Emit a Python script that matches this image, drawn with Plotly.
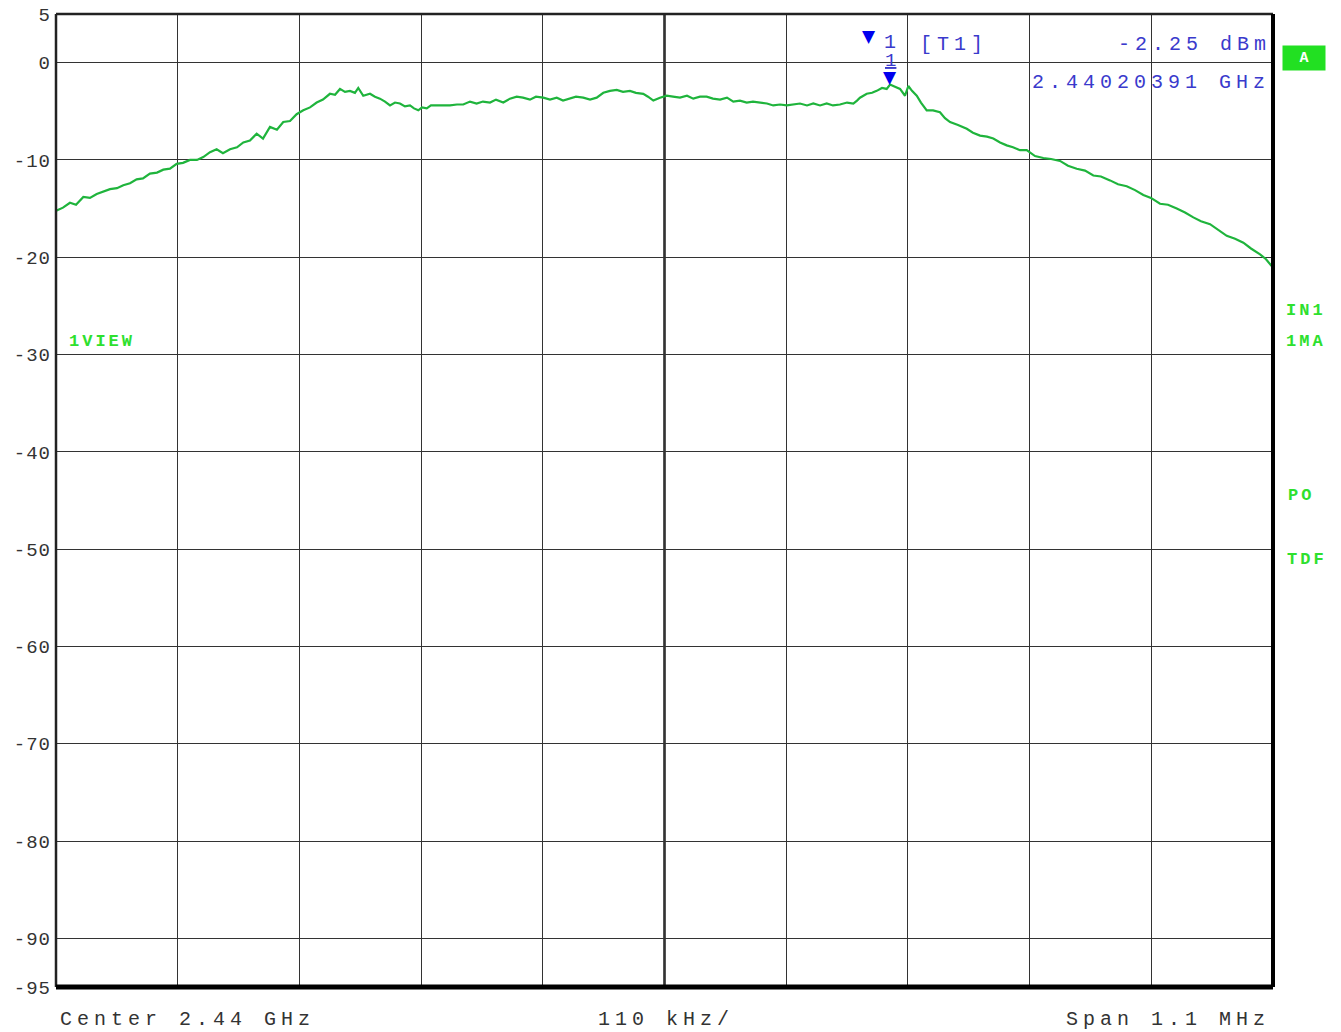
import plotly.graph_objects as go

# Frequency offset from center (kHz, center = 2.44 GHz) and level (dBm)
freq_khz = [-549.4, -543.7, -537.4, -531.9, -525.3, -519.3, -513.2, -507.5, -501.2, -494.9,
            -489.2, -483.1, -477.1, -471.4, -465.1, -458.7, -453.0, -447.0, -440.9, -435.2,
            -428.9, -422.6, -416.9, -410.8, -404.8, -399.1, -392.7, -386.4, -380.7, -374.7,
            -368.6, -362.9, -356.6, -350.3, -344.6, -338.5, -332.5, -326.5, -320.4, -314.4,
            -308.7, -302.4, -297.8, -293.3, -288.8, -284.3, -279.8, -276.8, -272.3, -266.2,
            -261.7, -257.2, -252.6, -248.1, -243.6, -239.1, -234.6, -230.0, -226.4, -222.5,
            -219.2, -214.9, -211.1, -205.9, -200.2, -193.9, -187.6, -181.9, -175.8, -169.8,
            -164.1, -157.7, -152.3, -145.7, -139.7, -133.6, -127.9, -121.6, -116.2, -109.6,
            -103.5, -97.4, -91.7, -85.4, -80.0, -73.4, -67.3, -61.3, -55.3, -49.3,
            -43.2, -37.5, -31.2, -25.8, -19.2, -14.9, -10.1, -4.1, 2.0, 7.7,
            14.0, 20.3, 26.0, 32.1, 38.1, 43.8, 50.2, 56.5, 62.2, 68.2,
            74.3, 80.0, 86.3, 92.6, 98.3, 104.4, 110.5, 116.1, 122.5, 128.8,
            134.5, 140.6, 146.6, 152.3, 158.6, 165.0, 170.7, 174.0, 176.7, 182.8,
            187.6, 191.8, 196.6, 200.8, 203.9, 206.8, 212.9, 217.4, 220.4, 223.7,
            228.0, 231.8, 237.0, 242.7, 249.0, 253.5, 258.1, 265.3, 273.2, 278.8,
            285.2, 291.5, 297.2, 303.3, 309.3, 315.0, 321.3, 327.4, 334.9, 342.4,
            349.4, 357.5, 364.7, 372.6, 380.1, 387.6, 394.5, 402.7, 409.9, 417.8,
            425.3, 432.8, 439.7, 447.9, 455.1, 463.0, 470.5, 478.0, 484.9, 493.1,
            500.3, 508.2, 515.7, 523.2, 530.1, 538.3, 543.7, 548.8]

level_dbm = [-15.2, -14.9, -14.4, -14.6, -13.8, -13.9, -13.5, -13.3, -13.0, -12.9,
             -12.6, -12.4, -12.0, -11.9, -11.4, -11.3, -11.0, -10.9, -10.4, -10.3,
             -10.0, -10.0, -9.7, -9.2, -8.9, -9.3, -8.9, -8.7, -8.2, -8.0,
             -7.3, -7.8, -6.6, -6.9, -6.1, -6.0, -5.3, -4.9, -4.6, -4.1,
             -3.8, -3.2, -3.3, -2.7, -3.0, -2.9, -3.1, -2.6, -3.4, -3.2,
             -3.5, -3.7, -4.0, -4.4, -4.1, -4.2, -4.5, -4.4, -4.7, -4.9,
             -4.6, -4.7, -4.4, -4.4, -4.4, -4.4, -4.3, -4.3, -4.0, -4.2,
             -4.0, -4.1, -3.8, -4.1, -3.7, -3.5, -3.6, -3.8, -3.5, -3.6,
             -3.8, -3.6, -3.9, -3.7, -3.5, -3.6, -3.8, -3.6, -3.1, -2.9,
             -2.8, -3.0, -2.9, -3.1, -3.2, -3.5, -3.9, -3.6, -3.4, -3.5,
             -3.6, -3.4, -3.7, -3.5, -3.5, -3.7, -3.8, -3.6, -4.0, -3.9,
             -4.1, -4.0, -4.1, -4.2, -4.4, -4.3, -4.4, -4.3, -4.2, -4.4,
             -4.2, -4.4, -4.2, -4.4, -4.3, -4.1, -4.2, -3.9, -3.6, -3.2,
             -3.1, -2.9, -2.6, -2.7, -2.25, -2.4, -2.7, -3.4, -2.4, -2.9,
             -3.4, -4.1, -4.9, -4.9, -5.1, -5.7, -6.1, -6.4, -6.8, -7.2,
             -7.5, -7.6, -7.8, -8.2, -8.5, -8.7, -9.0, -9.0, -9.6, -9.8,
             -9.9, -10.1, -10.6, -10.9, -11.1, -11.6, -11.7, -12.1, -12.5, -12.7,
             -13.1, -13.6, -13.9, -14.5, -14.6, -15.0, -15.4, -15.9, -16.3, -16.6,
             -17.2, -17.8, -18.1, -18.5, -19.1, -19.7, -20.2, -20.9]

marker_freq_khz = 203.91
marker_level = -2.25

y_tick_vals = [5, 0, -10, -20, -30, -40, -50, -60, -70, -80, -90, -95]
y_tick_text = ["5", "0", "-10", "-20", "-30", "-40", "-50", "-60", "-70", "-80", "-90", "-95"]
x_grid_vals = [-550, -440, -330, -220, -110, 0, 110, 220, 330, 440, 550]

MONO = "Liberation Mono, Courier New, monospace"
BLUE = "#3a3acc"
GREEN_TXT = "#2ee02e"
TRACE = "#1fb43c"

# plot area in page pixels (page has an 8px body margin)
PX0, PX1, PY0, PY1 = 56, 1273, 14, 987


def px(x):
    return (x - PX0) / (PX1 - PX0)


def py(y):
    return (PY1 - y) / (PY1 - PY0)


def sp(text, n):
    return '<span style="letter-spacing:%dpx">%s</span>' % (n, text)


fig = go.Figure()
fig.add_trace(go.Scatter(x=freq_khz, y=level_dbm, mode="lines",
                         line=dict(color=TRACE, width=2.2), hoverinfo="skip",
                         showlegend=False))

# center grid line appears doubled
fig.add_shape(type="line", xref="x", yref="paper", x0=0, x1=0, y0=0, y1=1,
              line=dict(color="#555", width=3), layer="below")
# frame
fig.add_shape(type="line", xref="paper", yref="paper", x0=0, x1=0, y0=0, y1=1,
              line=dict(color="#222", width=2.5))
fig.add_shape(type="line", xref="paper", yref="paper", x0=0, x1=1, y0=1, y1=1,
              line=dict(color="#222", width=2.5))
fig.add_shape(type="line", xref="paper", yref="paper", x0=1, x1=1, y0=0, y1=1,
              line=dict(color="#000", width=4))
fig.add_shape(type="line", xref="paper", yref="paper", x0=0, x1=1, y0=0, y1=0,
              line=dict(color="#000", width=5))

ann = []
# marker on trace
ann.append(dict(x=marker_freq_khz, y=marker_level, xref="x", yref="y", text="▼",
                showarrow=False, yanchor="bottom", yshift=-4,
                font=dict(family="DejaVu Sans", size=17, color="#0000ee")))
ann.append(dict(x=marker_freq_khz, y=marker_level, xref="x", yref="y",
                text="<u>1</u>", showarrow=False, yanchor="bottom", yshift=11,
                font=dict(family=MONO, size=19, color=BLUE)))
# marker readout
ann.append(dict(x=px(869), y=py(36), xref="paper", yref="paper",
                text="▼", showarrow=False, xanchor="center", yanchor="middle",
                font=dict(family="DejaVu Sans", size=17, color="#0000ee")))
ann.append(dict(x=px(882), y=py(43), xref="paper", yref="paper",
                text=sp("1", 5), showarrow=False, xanchor="left", yanchor="middle",
                font=dict(family=MONO, size=20, color=BLUE)))
ann.append(dict(x=px(918), y=py(44), xref="paper", yref="paper",
                text=sp("[T1]", 5), showarrow=False, xanchor="left", yanchor="middle",
                font=dict(family=MONO, size=20, color=BLUE)))
ann.append(dict(x=1.0, y=py(44), xref="paper", yref="paper",
                text=sp("-2.25 dBm", 5), showarrow=False, xanchor="right", yanchor="middle",
                font=dict(family=MONO, size=20, color=BLUE)))
ann.append(dict(x=px(1272), y=py(82), xref="paper", yref="paper",
                text=sp("2.44020391 GHz", 5), showarrow=False, xanchor="right",
                yanchor="middle", font=dict(family=MONO, size=20, color=BLUE)))
# green status box
ann.append(dict(x=px(1304), y=py(58), xref="paper", yref="paper",
                text="<b>A</b>", showarrow=False, xanchor="center", yanchor="middle",
                bgcolor="#22e022", width=40, height=22,
                font=dict(family=MONO, size=15, color="#ffffff")))
# green side labels
for txt, lx, ly in [("1VIEW", 67, 342), ("IN1", 1284, 310), ("1MA", 1284, 342),
                    ("PO", 1286, 495), ("TDF", 1285, 559)]:
    ann.append(dict(x=px(lx), y=py(ly), xref="paper", yref="paper",
                    text="<b>" + sp(txt, 3) + "</b>", showarrow=False, xanchor="left",
                    yanchor="middle",
                    font=dict(family=MONO, size=17, color=GREEN_TXT)))
# bottom labels
ann.append(dict(x=px(58), y=py(1019), xref="paper", yref="paper",
                text=sp("Center 2.44 GHz", 5), showarrow=False, xanchor="left",
                yanchor="middle", font=dict(family=MONO, size=20, color="#333")))
ann.append(dict(x=px(666), y=py(1019), xref="paper", yref="paper",
                text=sp("110 kHz/", 5), showarrow=False, xanchor="center",
                yanchor="middle", font=dict(family=MONO, size=20, color="#333")))
ann.append(dict(x=px(1272), y=py(1019), xref="paper", yref="paper",
                text=sp("Span 1.1 MHz", 5), showarrow=False, xanchor="right",
                yanchor="middle", font=dict(family=MONO, size=20, color="#333")))

fig.update_layout(
    template="none",
    width=1333, height=1024,
    margin=dict(l=PX0 - 8, r=1341 - PX1, t=PY0 - 8, b=1032 - PY1, autoexpand=False),
    paper_bgcolor="white", plot_bgcolor="white",
    showlegend=False,
    annotations=ann,
    xaxis=dict(range=[-550, 550], tickvals=x_grid_vals, showticklabels=False,
               showgrid=True, gridcolor="#333", gridwidth=1.3, zeroline=False,
               ticks="", showline=False, fixedrange=True, automargin=False),
    yaxis=dict(range=[-95, 5], tickvals=y_tick_vals,
               ticktext=[sp(t, 1) for t in y_tick_text],
               showgrid=True, gridcolor="#333", gridwidth=1.3, zeroline=False,
               ticks="", showline=False, ticklabelstandoff=4, automargin=False,
               ticklabeloverflow="allow",
               tickfont=dict(family=MONO, size=19, color="#333"), fixedrange=True),
)

fig.write_html("out.html")
